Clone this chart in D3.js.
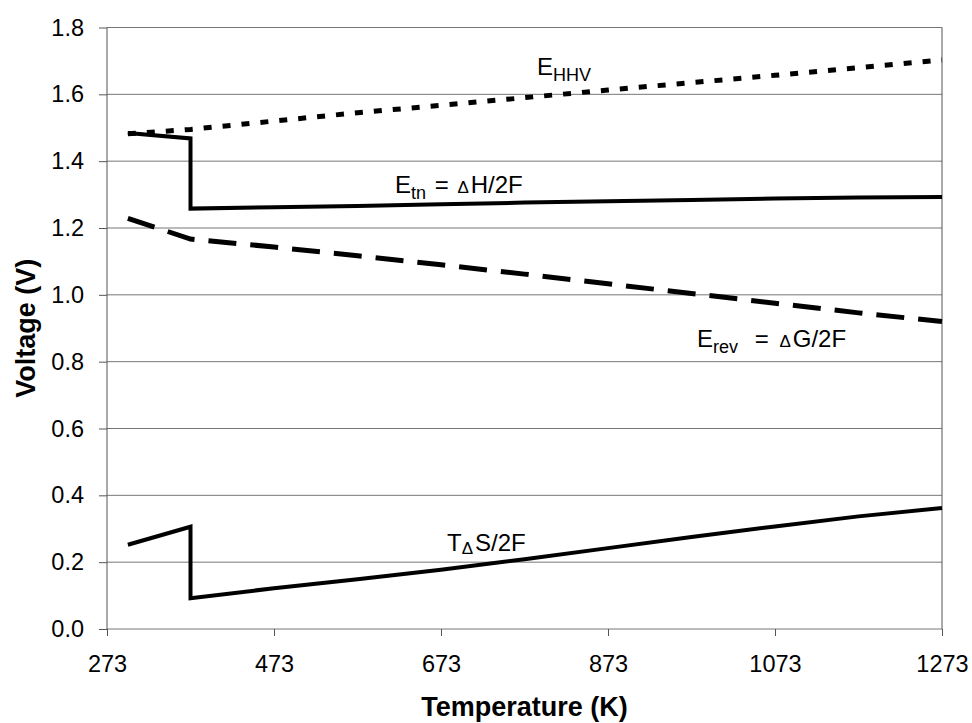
<!DOCTYPE html>
<html><head><meta charset="utf-8">
<script src="https://cdn.jsdelivr.net/npm/d3@7"></script>
<style>body{margin:0;background:#fff} svg{display:block}</style>
</head><body>
<svg id="c" width="972" height="723"></svg>
<script>
// Data
const temps = [298, 373, 473, 573, 673, 773, 873, 973, 1073, 1173, 1273];
const tempsStep = [298, 373, 373, 473, 573, 673, 773, 873, 973, 1073, 1173, 1273];
const eHHV = [1.482, 1.495, 1.520, 1.545, 1.567, 1.590, 1.613, 1.635, 1.657, 1.680, 1.703];
const eTn  = [1.484, 1.468, 1.258, 1.262, 1.266, 1.271, 1.276, 1.280, 1.284, 1.288, 1.291, 1.293];
const eRev = [1.229, 1.167, 1.143, 1.117, 1.090, 1.062, 1.033, 1.004, 0.975, 0.946, 0.920];
const tdS  = [0.252, 0.306, 0.092, 0.122, 0.149, 0.177, 0.209, 0.242, 0.275, 0.307, 0.337, 0.362];
const xTicks = [273, 473, 673, 873, 1073, 1273];
const yTicks = [0, 0.2, 0.4, 0.6, 0.8, 1.0, 1.2, 1.4, 1.6, 1.8];

const svg = d3.select("#c");
const L = 107, R = 942, T = 27.5, B = 629;
const x = d3.scaleLinear().domain([273, 1273]).range([L, R]);
const y = d3.scaleLinear().domain([0, 1.8]).range([B, T]);
const font = "'Liberation Sans', Arial, sans-serif";

// grid lines
svg.append("g").selectAll("line").data(yTicks).join("line")
  .attr("x1", L).attr("x2", R).attr("y1", d => y(d)).attr("y2", d => y(d))
  .attr("stroke", "#777").attr("stroke-width", 1);
// frame verticals
svg.append("line").attr("x1", L).attr("x2", L).attr("y1", T).attr("y2", B).attr("stroke", "#555").attr("stroke-width", 1);
svg.append("line").attr("x1", R).attr("x2", R).attr("y1", T).attr("y2", B).attr("stroke", "#555").attr("stroke-width", 1);

// axes
const yAxis = svg.append("g").attr("transform", `translate(${L},0)`)
  .call(d3.axisLeft(y).tickValues(yTicks).tickFormat(d3.format(".1f")).tickSize(8).tickSizeOuter(0).tickPadding(15));
yAxis.select(".domain").remove();
yAxis.selectAll("line").attr("stroke", "#555");
yAxis.selectAll("text").attr("font-family", font).attr("font-size", 23.5).attr("fill", "#000");

const xAxis = svg.append("g").attr("transform", `translate(0,${B})`)
  .call(d3.axisBottom(x).tickValues(xTicks).tickFormat(d3.format("d")).tickSize(7).tickSizeOuter(0).tickPadding(19));
xAxis.select(".domain").remove();
xAxis.selectAll("line").attr("stroke", "#555");
xAxis.selectAll("text").attr("font-family", font).attr("font-size", 23.5).attr("fill", "#000");

// axis titles
svg.append("text").attr("x", (L + R) / 2).attr("y", 716).attr("text-anchor", "middle")
  .attr("font-family", font).attr("font-size", 27).attr("font-weight", "bold").text("Temperature (K)");
svg.append("text").attr("transform", `translate(35,${(T + B) / 2}) rotate(-90)`).attr("text-anchor", "middle")
  .attr("font-family", font).attr("font-size", 27).attr("font-weight", "bold").text("Voltage (V)");

// lines
const line = (xs, ys) => d3.line().x((d, i) => x(xs[i])).y(d => y(d))(ys);
svg.append("path").attr("d", line(temps, eHHV)).attr("fill", "none").attr("stroke", "#000")
  .attr("stroke-width", 5).attr("stroke-dasharray", "8,11");
svg.append("path").attr("d", line(temps, eRev)).attr("fill", "none").attr("stroke", "#000")
  .attr("stroke-width", 5).attr("stroke-dasharray", "28,14");
svg.append("path").attr("d", line(tempsStep, eTn)).attr("fill", "none").attr("stroke", "#000")
  .attr("stroke-width", 4).attr("stroke-linejoin", "miter");
svg.append("path").attr("d", line(tempsStep, tdS)).attr("fill", "none").attr("stroke", "#000")
  .attr("stroke-width", 4).attr("stroke-linejoin", "miter");

// series labels
function label(xp, yp, parts) {
  const t = svg.append("text").attr("x", xp).attr("y", yp).attr("font-family", font).attr("fill", "#000");
  parts.forEach(p => {
    t.append("tspan").attr("font-size", p.s || 24).attr("dy", p.dy || 0).attr("dx", p.dx || 0).text(p.t);
  });
}
label(537, 75, [{t: "E"}, {t: "HHV", s: 18, dy: 6}]);
label(395, 193, [{t: "E"}, {t: "tn", s: 18, dy: 6}, {t: " = ", dy: -6, dx: 2}, {t: "Δ", s: 17, dx: 2}, {t: "H/2F", dx: 2}]);
label(697, 347, [{t: "E"}, {t: "rev", s: 18, dy: 6}, {t: " = ", dy: -6, dx: 10}, {t: "Δ", s: 17, dx: 4}, {t: "G/2F", dx: 2}]);
label(447, 551, [{t: "T"}, {t: "Δ", s: 17, dy: 3}, {t: "S/2F", dy: -3, dx: 2}]);
</script>
</body></html>
